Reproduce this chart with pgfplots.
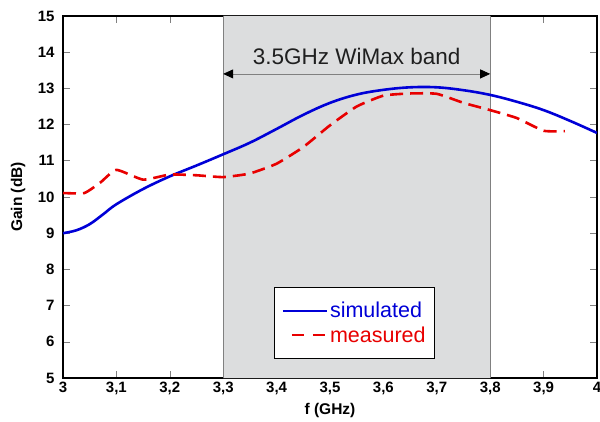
\documentclass[border=0pt]{standalone}
\usepackage{fontspec}
\setmainfont{Liberation Sans}
\usepackage{pgfplots}
\pgfplotsset{compat=1.18}
\usetikzlibrary{arrows.meta}
\definecolor{band}{RGB}{220,221,222}
\definecolor{simblue}{RGB}{0,0,215}
\definecolor{measred}{RGB}{232,0,0}
\begin{document}
\begin{tikzpicture}
\begin{axis}[
  scale only axis,
  width=534bp, height=362bp,
  xmin=3, xmax=4, ymin=5, ymax=15,
  xtick={3,3.1,...,4.01},
  xticklabels={3,{3,1},{3,2},{3,3},{3,4},{3,5},{3,6},{3,7},{3,8},{3,9},4},
  ytick={5,6,...,15},
  /pgf/number format/assume math mode=true,
  tick label style={font=\fontsize{15bp}{17bp}\selectfont\bfseries},
  yticklabel style={xshift=-5bp},
  xticklabel style={yshift=-1bp},
  label style={font=\fontsize{15.5bp}{17bp}\selectfont\bfseries},
  xlabel={f (GHz)},
  ylabel={Gain (dB)},
  xlabel style={at={(axis description cs:0.5,-0.09)}, anchor=center},
  ylabel style={at={(axis description cs:-0.084,0.5)}, anchor=center},
  major tick length=7bp,
  tick style={gray, line width=0.6bp},
  axis line style={black, line width=1.3bp},
  legend style={at={(0.395,0.252)}, anchor=north west, draw=black, line width=1.2bp,
    font=\fontsize{21.5bp}{24bp}\selectfont, inner xsep=7bp, inner ysep=13bp, row sep=3bp,
    /tikz/every even column/.append style={column sep=4bp}},
  legend cell align=left,
  legend image code/.code={\draw[#1, line width=2.6bp] (0cm,0cm) -- (1.55cm,0cm);},
  clip=true,
]
\addplot[fill=band, draw=none, forget plot] coordinates {(3.3,5) (3.3,15) (3.8,15) (3.8,5)} \closedcycle;
\addplot[gray, line width=0.6bp, forget plot] coordinates {(3.3,5) (3.3,15)};
\addplot[gray, line width=0.6bp, forget plot] coordinates {(3.8,5) (3.8,15)};
\draw[gray, line width=0.8bp, {Triangle[black,length=10bp,width=9bp]}-{Triangle[black,length=10bp,width=9bp]}] (axis cs:3.3,13.4) -- (axis cs:3.8,13.4);
\node[font=\fontsize{22.5bp}{25bp}\selectfont, text=black!88] at (axis cs:3.55,13.88) {3.5GHz WiMax band};
\addplot[simblue, line width=2.6bp, smooth, tension=0.6] coordinates {
(3.00,9.00)(3.025,9.08)(3.05,9.25)(3.075,9.52)(3.10,9.80)(3.15,10.22)(3.20,10.57)(3.25,10.87)(3.30,11.18)(3.35,11.50)(3.40,11.88)(3.45,12.27)(3.50,12.60)(3.55,12.83)(3.60,12.96)(3.65,13.03)(3.70,13.03)(3.75,12.95)(3.80,12.82)(3.85,12.63)(3.90,12.40)(3.95,12.10)(4.00,11.77)
};
\addlegendentry{\textcolor{simblue}{simulated}}
\addplot[measred, line width=2.6bp, dash pattern=on 13bp off 7bp, smooth, tension=0.3,
  legend image code/.code={\draw[measred, line width=2.6bp, dash pattern=on 12bp off 9bp, dash phase=12bp] (0cm,0cm) -- (1.55cm,0cm);}] coordinates {
(3.00,10.11)(3.04,10.11)(3.07,10.40)(3.10,10.75)(3.15,10.48)(3.20,10.62)(3.25,10.60)(3.30,10.55)(3.35,10.65)(3.40,10.92)(3.45,11.38)(3.50,11.98)(3.55,12.50)(3.60,12.80)(3.65,12.86)(3.70,12.85)(3.75,12.60)(3.80,12.40)(3.85,12.18)(3.90,11.83)(3.94,11.82)
};
\addlegendentry{\textcolor{measred}{measured}}
\end{axis}
\pgfresetboundingbox
\useasboundingbox (-63bp,-44bp) rectangle (537bp,378bp);
\end{tikzpicture}
\end{document}
